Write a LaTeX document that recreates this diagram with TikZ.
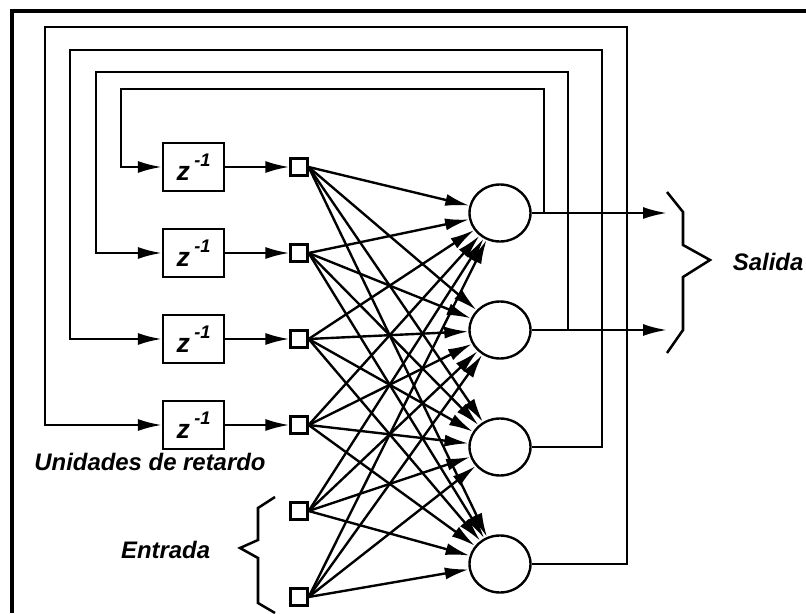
\documentclass[tikz,border=0pt]{standalone}
\usepackage{tikz}
\usetikzlibrary{shapes,arrows.meta,positioning,calc}
\usepackage{fontspec}
\newfontfamily\lblfont{Liberation Sans}
\newcommand{\zinv}{{\fontsize{19}{20}\selectfont z}\hspace{3pt}\raisebox{10pt}{\fontsize{13}{14}\selectfont -1}}

\begin{document}
\begin{tikzpicture}[
    delay/.style={rectangle, draw, line width=1.8pt, minimum width=1.525cm, minimum height=1.2cm, inner sep=0pt, font=\lblfont\bfseries\itshape},
    unit/.style={rectangle, draw, line width=1.6pt, minimum size=0.425cm, inner sep=0pt},
    neuron/.style={ellipse, draw, line width=1.7pt, minimum width=1.525cm, minimum height=1.425cm, inner sep=0pt},
    tag/.style={font=\lblfont\bfseries\itshape\fontsize{17}{19}\selectfont},
    arrow/.style={-{Latex[length=6mm,width=3mm]}, line width=1.7pt},
    wire/.style={line width=1.8pt},
    frame/.style={line width=2.8pt}
]
\useasboundingbox (0,0) rectangle (20.15,15.325);

% Outer frame
\draw[frame] (0.3,0) |- (20.15,15.05);

% Delay units
\node[delay] (d1) at (4.84,11.15) {\zinv};
\node[delay] (d2) at (4.84,9.0) {\zinv};
\node[delay] (d3) at (4.84,6.85) {\zinv};
\node[delay] (d4) at (4.84,4.7) {\zinv};

% Input layer
\node[unit] (u1) at (7.475,11.15) {};
\node[unit] (u2) at (7.475,9.0) {};
\node[unit] (u3) at (7.475,6.85) {};
\node[unit] (u4) at (7.475,4.7) {};
\node[unit] (u5) at (7.475,2.55) {};
\node[unit] (u6) at (7.475,0.4) {};

% Neurons
\node[neuron] (n1) at (12.5,10.0) {};
\node[neuron] (n2) at (12.5,7.075) {};
\node[neuron] (n3) at (12.5,4.15) {};
\node[neuron] (n4) at (12.5,1.225) {};

% Delays into input layer
\draw[arrow] (d1) -- (u1);
\draw[arrow] (d2) -- (u2);
\draw[arrow] (d3) -- (u3);
\draw[arrow] (d4) -- (u4);

% Fully connected weights
\foreach \i in {1,...,6}
  \foreach \j in {1,...,4}
    \draw[arrow] (u\i.east) -- (n\j);

% Outputs
\coordinate (out1) at (16.675,10.0);
\coordinate (out2) at (16.675,7.075);
\draw[arrow] (n1.east) -- (out1);
\draw[arrow] (n2.east) -- (out2);

% Feedback back to the delays
\foreach \i/\tx/\ty/\lx/\by in {1/13.6/13.1/3.025/11.15, 2/14.2/13.525/2.4/9.0, 3/15.05/14.075/1.75/6.85, 4/15.675/14.65/1.125/4.7}
  \draw[arrow] (n\i.east) -| (\tx,\ty) -| (\lx,\by) -- (d\i.west);

% Braces
\draw[wire] (16.675,10.525) -- (17.075,10.025) -- (17.075,9.2) -- (17.75,8.825)
    -- (17.075,8.4) -- (17.075,7.075) -- (16.675,6.5);
\draw[wire] (6.875,2.9) -- (6.45,2.625) -- (6.45,1.825) -- (6.0,1.625)
    -- (6.45,1.375) -- (6.45,0.25) -- (6.875,0.0);

% Labels
\node[tag, anchor=west] (salida) at (18.2,8.775) {Salida};
\node[tag] (entrada) at (4.14,1.575) {Entrada};
\node[tag] (retardo) at (3.75,3.775) {Unidades de retardo};

\end{tikzpicture}
\end{document}
